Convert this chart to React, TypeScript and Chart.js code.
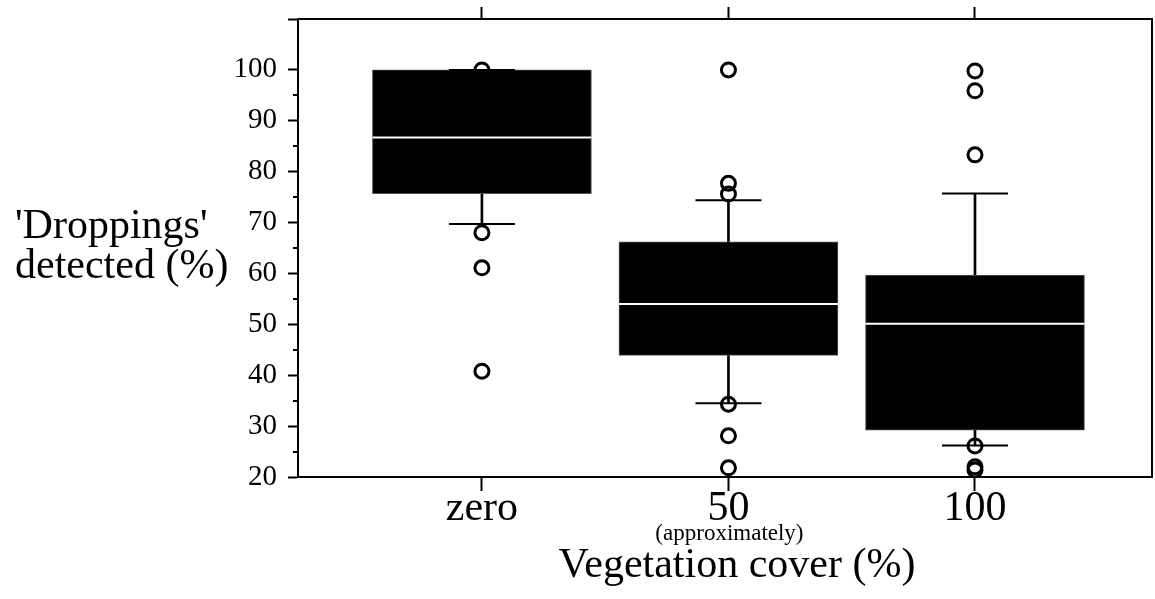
import React, { useEffect, useRef } from "react";
import { Chart, registerables } from "chart.js";

Chart.register(...registerables);

// ---- data ----
const categories = ["zero", "50", "100"];
const categoryPositions = [0, 1, 2];
const q1 = [75.7, 43.9, 29.2];
const median = [86.7, 54.0, 50.1];
const q3 = [100, 66.2, 59.7];
const whiskerLow = [69.7, 34.5, 26.2];
const whiskerHigh = [100, 74.4, 75.7];
const outliersZero = [100, 68.0, 61.1, 40.8];
const outliers50 = [100, 77.7, 75.6, 34.3, 28.1, 21.8];
const outliers100 = [99.8, 95.9, 83.3, 26.1, 22.0, 21.4];
const yTicks = [20, 30, 40, 50, 60, 70, 80, 90, 100, 110];
const yMinorTicks = [25, 35, 45, 55, 65, 75, 85, 95];

const FONT = '"Liberation Serif", "Times New Roman", serif';

export default function App() {
  const ref = useRef<HTMLCanvasElement | null>(null);

  useEffect(() => {
    if (!ref.current) return;
    const outliers = [outliersZero, outliers50, outliers100];
    const outlierPts: { x: number; y: number }[] = [];
    outliers.forEach((arr, i) => arr.forEach((v) => outlierPts.push({ x: categoryPositions[i], y: v })));

    const extraPlugin = {
      id: "extras",
      afterDraw(chart: any) {
        const ctx = chart.ctx;
        const y = chart.scales.y;
        const x = chart.scales.x;
        ctx.save();
        // minor ticks
        ctx.strokeStyle = "#000";
        ctx.lineWidth = 2;
        yMinorTicks.forEach((v) => {
          const py = Math.round(y.getPixelForValue(v));
          ctx.beginPath();
          ctx.moveTo(chart.chartArea.left - 5, py);
          ctx.lineTo(chart.chartArea.left, py);
          ctx.stroke();
        });
        ctx.fillStyle = "#000";
        // y title
        ctx.font = `42px ${FONT}`;
        ctx.textAlign = "left";
        ctx.textBaseline = "alphabetic";
        ctx.fillText("'Droppings'", 15, 238);
        ctx.fillText("detected (%)", 15, 278);
        // sub label
        ctx.font = `23px ${FONT}`;
        ctx.textAlign = "center";
        ctx.fillText("(approximately)", x.getPixelForValue(1) + 1, 540);
        // x title
        ctx.font = `42px ${FONT}`;
        ctx.fillText("Vegetation cover (%)", 737, 577);
        ctx.restore();
      },
    };

    const xMin = -0.746;
    const xMax = 2.718;
    const noPad = (s: any) => {
      s.paddingTop = 0;
      s.paddingBottom = 0;
      s.paddingLeft = 0;
      s.paddingRight = 0;
    };

    const chart = new Chart(ref.current, {
      type: "scatter",
      data: {
        datasets: [
          {
            type: "scatter",
            label: "outliers",
            data: outlierPts,
            pointStyle: "circle",
            pointRadius: 7,
            pointBorderWidth: 3,
            pointBorderColor: "#000",
            pointBackgroundColor: "rgba(0,0,0,0)",
            order: 0,
          } as any,
          {
            type: "scatter",
            label: "median",
            data: categoryPositions.map((c, i) => ({ x: c, y: median[i] })),
            pointStyle: "line",
            pointRadius: 109.5,
            pointBorderWidth: 2,
            pointBorderColor: "#fff",
            order: 1,
          } as any,
          {
            type: "scatter",
            label: "capHigh",
            data: categoryPositions.map((c, i) => ({ x: c, y: whiskerHigh[i] })),
            pointStyle: "line",
            pointRadius: 33,
            pointBorderWidth: 2,
            pointBorderColor: "#000",
            order: 2,
          } as any,
          {
            type: "scatter",
            label: "capLow",
            data: categoryPositions.map((c, i) => ({ x: c, y: whiskerLow[i] })),
            pointStyle: "line",
            pointRadius: 33,
            pointBorderWidth: 2,
            pointBorderColor: "#000",
            order: 2,
          } as any,
          {
            type: "bar",
            label: "box",
            data: categoryPositions.map((c, i) => ({ x: c, y: [q1[i], q3[i]] })),
            backgroundColor: "#000",
            borderColor: "#555",
            borderWidth: 1,
            borderSkipped: false,
            barThickness: 219,
            grouped: false,
            order: 3,
          } as any,
          {
            type: "bar",
            label: "stemHigh",
            data: categoryPositions.map((c, i) => ({ x: c, y: [q3[i], whiskerHigh[i]] })),
            backgroundColor: "#000",
            borderWidth: 0,
            barThickness: 2,
            grouped: false,
            order: 4,
          } as any,
          {
            type: "bar",
            label: "stemLow",
            data: categoryPositions.map((c, i) => ({ x: c, y: [whiskerLow[i], q1[i]] })),
            backgroundColor: "#000",
            borderWidth: 0,
            barThickness: 2,
            grouped: false,
            order: 4,
          } as any,
        ],
      },
      options: {
        animation: false,
        responsive: true,
        maintainAspectRatio: false,
        layout: { padding: 0, autoPadding: false },
        plugins: { legend: { display: false }, tooltip: { enabled: false } },
        scales: {
          x: {
            type: "linear",
            position: "bottom",
            min: xMin,
            max: xMax,
            offset: false,
            afterBuildTicks: (s: any) => {
              s.ticks = categoryPositions.map((v) => ({ value: v }));
            },
            afterFit: (s: any) => {
              s.height = 122;
              noPad(s);
            },
            ticks: {
              callback: (v: any) => {
                const i = categoryPositions.indexOf(Number(v));
                return i >= 0 ? categories[i] : "";
              },
              color: "#000",
              font: { family: FONT, size: 42, lineHeight: 1 },
              padding: -3,
              maxRotation: 0,
              autoSkip: false,
            },
            grid: {
              display: true,
              drawOnChartArea: false,
              drawTicks: true,
              tickLength: 14,
              tickWidth: 2,
              tickColor: "#000",
              offset: false,
            },
            border: { display: true, width: 2, color: "#000" },
          },
          x2: {
            type: "linear",
            position: "top",
            min: xMin,
            max: xMax,
            offset: false,
            afterBuildTicks: (s: any) => {
              s.ticks = categoryPositions.map((v) => ({ value: v }));
            },
            afterFit: (s: any) => {
              s.height = 19;
              noPad(s);
            },
            ticks: { callback: () => "", autoSkip: false, font: { size: 1 } },
            grid: {
              display: true,
              drawOnChartArea: false,
              drawTicks: true,
              tickLength: 12,
              tickWidth: 2,
              tickColor: "#000",
              offset: false,
            },
            border: { display: true, width: 2, color: "#000" },
          },
          y: {
            type: "linear",
            position: "left",
            min: 20,
            max: 110,
            afterBuildTicks: (s: any) => {
              s.ticks = yTicks.map((v) => ({ value: v }));
            },
            afterFit: (s: any) => {
              s.width = 298;
              noPad(s);
            },
            ticks: {
              callback: (v: any) => (Number(v) === 110 ? "" : String(v)),
              color: "#000",
              font: { family: FONT, size: 29 },
              padding: 11,
              autoSkip: false,
            },
            grid: {
              display: true,
              drawOnChartArea: false,
              drawTicks: true,
              tickLength: 10,
              tickWidth: 2,
              tickColor: "#000",
            },
            border: { display: true, width: 2, color: "#000" },
          },
          y2: {
            type: "linear",
            position: "right",
            min: 20,
            max: 110,
            afterFit: (s: any) => {
              s.width = 3;
              noPad(s);
            },
            ticks: { display: false },
            grid: { display: false },
            border: { display: true, width: 2, color: "#000" },
          },
        },
      } as any,
      plugins: [extraPlugin],
    });
    return () => chart.destroy();
  }, []);

  return (
    <div style={{ position: "fixed", left: 0, top: 0, width: 1155, height: 599, background: "#fff" }}>
      <canvas ref={ref} />
    </div>
  );
}
